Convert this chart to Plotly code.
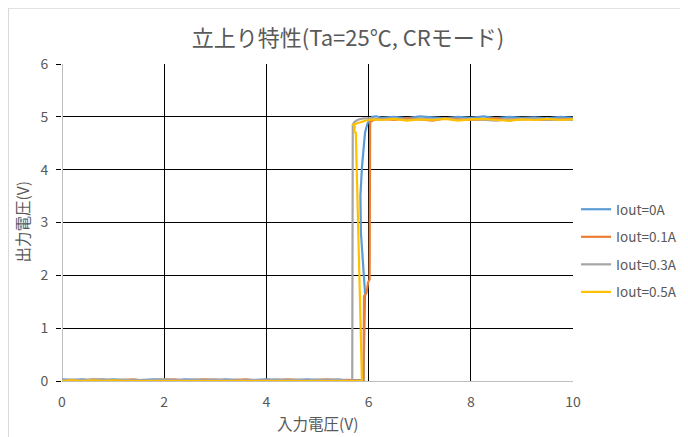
import plotly.graph_objects as go

# ---- data ----
low_x = [0.0, 0.2, 0.4, 0.6, 0.8, 1.0, 1.2, 1.4, 1.6, 1.8, 2.0, 2.2, 2.4, 2.6, 2.8,
         3.0, 3.2, 3.4, 3.6, 3.8, 4.0, 4.2, 4.4, 4.6, 4.8, 5.0, 5.2, 5.4, 5.6]
high_x = [6.25, 6.5, 6.75, 7.0, 7.25, 7.5, 7.75, 8.0, 8.25, 8.5, 8.75, 9.0, 9.25, 9.5, 9.75, 10.0]

# Iout=0A
x0 = low_x + [5.9, 5.93, 5.88, 5.85, 5.84, 5.87, 5.93, 5.98, 6.07, 6.15] + high_x
y0 = [0.03, 0.02, 0.03, 0.01, 0.02, 0.03, 0.02, 0.01, 0.02, 0.03, 0.02, 0.01, 0.03, 0.02, 0.02,
      0.01, 0.03, 0.02, 0.01, 0.02, 0.03, 0.02, 0.01, 0.02, 0.03, 0.02, 0.01, 0.02, 0.02,
      0.01, 1.67, 2.3, 2.8, 3.5, 4.05, 4.7, 4.88, 5.0, 5.01,
      4.98, 5.0, 4.97, 5.01, 4.99, 4.97, 5.0, 4.98, 5.01, 4.97, 5.0, 4.98, 4.99, 4.97, 5.0, 4.98]

# Iout=0.1A
x1 = low_x + [5.9, 5.91, 5.96, 5.99, 6.02, 6.03, 6.1, 6.15] + high_x
y1 = [0.01, 0.02, 0.01, 0.03, 0.02, 0.01, 0.02, 0.03, 0.01, 0.02, 0.02, 0.03, 0.01, 0.02, 0.03,
      0.02, 0.01, 0.02, 0.03, 0.01, 0.02, 0.01, 0.03, 0.02, 0.01, 0.02, 0.03, 0.01, 0.02,
      0.0, 1.6, 1.67, 1.87, 1.92, 4.9, 4.94, 4.95,
      4.96, 4.94, 4.97, 4.95, 4.93, 4.97, 4.96, 4.94, 4.95, 4.97, 4.93, 4.96, 4.95, 4.94, 4.96, 4.95]

# Iout=0.3A
x2 = low_x + [5.68, 5.69, 5.72, 5.8, 5.9, 6.0, 6.1] + high_x
y2 = [0.02, 0.01, 0.02, 0.02, 0.03, 0.01, 0.02, 0.02, 0.01, 0.02, 0.03, 0.02, 0.02, 0.01, 0.02,
      0.03, 0.02, 0.01, 0.02, 0.02, 0.01, 0.03, 0.02, 0.02, 0.01, 0.02, 0.02, 0.03, 0.01,
      0.0, 4.85, 4.9, 4.95, 4.97, 4.97, 4.96,
      4.95, 4.97, 4.94, 4.96, 4.95, 4.97, 4.94, 4.96, 4.95, 4.93, 4.96, 4.95, 4.97, 4.94, 4.95, 4.94]

# Iout=0.5A
x3 = low_x + [5.87, 5.75, 5.72, 5.73, 5.7, 5.78, 5.85, 5.95, 6.1] + high_x
y3 = [0.0, 0.01, 0.0, 0.01, 0.0, 0.01, 0.0, 0.0, 0.01, 0.0, 0.01, 0.0, 0.0, 0.01, 0.0,
      0.0, 0.01, 0.0, 0.0, 0.01, 0.0, 0.0, 0.01, 0.0, 0.0, 0.01, 0.0, 0.0, 0.01,
      0.0, 4.7, 4.72, 4.82, 4.85, 4.88, 4.9, 4.93, 4.95,
      4.94, 4.96, 4.93, 4.95, 4.94, 4.96, 4.93, 4.95, 4.96, 4.94, 4.93, 4.95, 4.94, 4.96, 4.94, 4.95]

names = ["Iout=0A", "Iout=0.1A", "Iout=0.3A", "Iout=0.5A"]
colors = ["#5B9BD5", "#ED7D31", "#A5A5A5", "#FFC000"]
series = [(x0, y0), (x1, y1), (x2, y2), (x3, y3)]

x_ticks = [0, 2, 4, 6, 8, 10]
y_ticks = [0, 1, 2, 3, 4, 5, 6]

FONT = "Noto Sans CJK JP"
GREY = "#595959"
PW, PH = 511, 317
W, H = 680, 429  # page adds an 8px body margin

fig = go.Figure()
for (xs, ys), name, col in zip(series, names, colors):
    fig.add_trace(go.Scatter(x=xs, y=ys, mode="lines", name=name,
                             legendgroup=name,
                             line=dict(color=col, width=2.2)))

fig.update_layout(
    width=W, height=H,
    margin=dict(l=54, r=W - 54 - PW, t=56, b=H - 56 - PH, autoexpand=False),
    paper_bgcolor="white", plot_bgcolor="white",
    font=dict(family=FONT, color=GREY, size=14),
    title=dict(text="立上り特性(Ta=25℃, CRモード)", x=(348 - 8) / W, xanchor="center",
               y=1 - 30 / H, yanchor="middle",
               font=dict(family=FONT, size=22, color=GREY)),
    showlegend=True,
    legend=dict(x=1.006, xanchor="left", y=0.59, yanchor="top",
                font=dict(family=FONT, size=13.5, color=GREY),
                tracegroupgap=7, bgcolor="rgba(0,0,0,0)"),
    xaxis=dict(range=[0, 10], tickvals=x_ticks, showgrid=True, gridcolor="black",
               gridwidth=1.3, zeroline=True, zerolinecolor="#BFBFBF", zerolinewidth=1.3,
               showline=False, ticks="", ticklabelstandoff=11, automargin=False,
               tickfont=dict(size=14, color=GREY)),
    yaxis=dict(range=[0, 6], tickvals=y_ticks, showgrid=True, gridcolor="black",
               gridwidth=1.3, zeroline=True, zerolinecolor="#BFBFBF", zerolinewidth=1.3,
               showline=False, ticks="outside", ticklen=5, tickcolor="black", tickwidth=1.3,
               ticklabelstandoff=5, automargin=False,
               tickfont=dict(size=14, color=GREY)),
)

# axis titles placed as text (match reference positions)
fig.add_annotation(text="入力電圧(V)", xref="paper", yref="paper",
                   x=0.5, y=-(423 - 381) / PH, xanchor="center", yanchor="middle",
                   showarrow=False, font=dict(family=FONT, size=15.5, color=GREY))
fig.add_annotation(text="出力電圧(V)", xref="paper", yref="paper",
                   x=-(62 - 21) / PW, y=0.5, xanchor="center", yanchor="middle",
                   textangle=-90, showarrow=False,
                   font=dict(family=FONT, size=15.5, color=GREY))

# light outer chart border (top and left edges of the chart frame)
fig.add_shape(type="line", xref="paper", yref="paper",
              x0=-54 / PW, x1=1 + (W - 54 - PW) / PW, y0=1 + 56 / PH, y1=1 + 56 / PH,
              line=dict(color="#D9D9D9", width=1.5))
fig.add_shape(type="line", xref="paper", yref="paper",
              x0=-53.5 / PW, x1=-53.5 / PW, y0=-(H - 56 - PH) / PH, y1=1 + 56 / PH,
              line=dict(color="#D9D9D9", width=1))

fig.write_html("out.html")
